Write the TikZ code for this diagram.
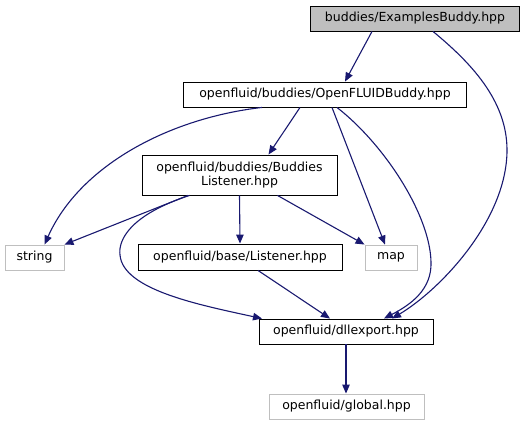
\documentclass[tikz,border=0pt]{standalone}
\usepackage{fontspec}
\setmainfont{DejaVu Sans}
\usetikzlibrary{arrows.meta}
\definecolor{edgeblue}{HTML}{191970}
\definecolor{lightborder}{HTML}{BFBFBF}
\definecolor{fillgray}{HTML}{BFBFBF}
\tikzset{
  box/.style={draw=black, line width=0.9pt, inner sep=0pt, align=center,
    font=\fontsize{12.5}{14.5}\selectfont},
  extbox/.style={box, draw=lightborder},
  rootbox/.style={box, fill=fillgray},
  dep/.style={draw=edgeblue, line width=1.1pt,
    -{Triangle[length=9pt,width=7.5pt]}, color=edgeblue}
}
\begin{document}
\begin{tikzpicture}[x=1pt,y=-1pt]
\useasboundingbox (0,0) rectangle (524,425);
\node[rootbox, minimum width=209pt, minimum height=25pt] (EB) at (415,18.5) {buddies/ExamplesBuddy.hpp};
\node[box, minimum width=283pt, minimum height=25pt] (OFB) at (325,94.5) {openfluid/buddies/OpenFLUIDBuddy.hpp};
\node[box, minimum width=195pt, minimum height=40pt] (BL) at (239.5,175) {openfluid/buddies/Buddies\\Listener.hpp};
\node[box, minimum width=204pt, minimum height=26pt] (LI) at (240,257) {openfluid/base/Listener.hpp};
\node[extbox, minimum width=59pt, minimum height=25pt] (ST) at (34.5,257.5) {string};
\node[extbox, minimum width=52pt, minimum height=25pt] (MP) at (391,257.5) {map};
\node[box, minimum width=174pt, minimum height=25pt] (DL) at (346,331.5) {openfluid/dllexport.hpp};
\node[extbox, minimum width=155pt, minimum height=25pt] (GL) at (346.5,406.5) {openfluid/global.hpp};

% EB -> OFB
\draw[dep] ([xshift=-43pt]EB.south) -- ([xshift=20pt]OFB.north);
% EB -> DL
\draw[dep] ([xshift=18pt]EB.south) .. controls (470,62) and (507,100) .. (507,150)
  .. controls (507,220) and (440,290) .. ([xshift=46pt]DL.north);
% OFB -> BL
\draw[dep] ([xshift=-25pt]OFB.south) -- ([xshift=29pt]BL.north);
% OFB -> string
\draw[dep] ([xshift=-63pt]OFB.south) .. controls (170,118) and (80,165) .. ([xshift=10pt]ST.north);
% OFB -> map
\draw[dep] ([xshift=7pt]OFB.south) -- ([xshift=-6pt]MP.north);
% OFB -> DL
\draw[dep] ([xshift=12pt]OFB.south) .. controls (385,145) and (430,215) .. (431,262)
  .. controls (432,290) and (410,305) .. ([xshift=38pt]DL.north);
% BL -> string
\draw[dep] ([xshift=-51.5pt]BL.south) -- (ST.north east);
% BL -> LI
\draw[dep] (BL.south) -- (LI.north);
% BL -> map
\draw[dep] ([xshift=38pt]BL.south) -- (MP.north west);
% BL -> DL
\draw[dep] ([xshift=-50pt]BL.south) .. controls (130,215) and (118,240) .. (120,255)
  .. controls (123,290) and (200,305) .. ([xshift=-84pt]DL.north);
% LI -> DL
\draw[dep] ([xshift=18pt]LI.south) -- ([xshift=-16pt]DL.north);
% DL -> GL
\draw[dep] (DL.south) -- (DL.south |- GL.north);
\end{tikzpicture}
\end{document}
